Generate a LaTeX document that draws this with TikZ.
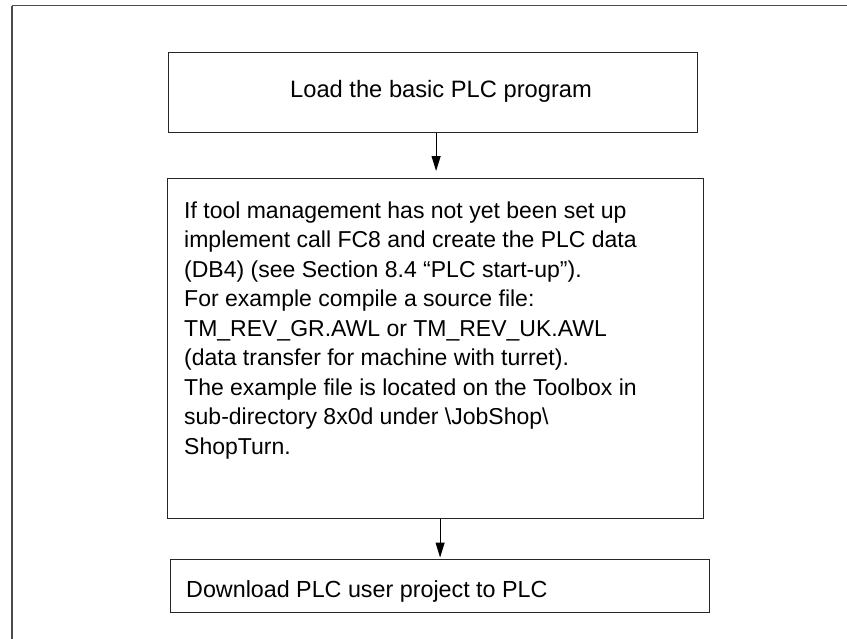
\documentclass[tikz,border=0pt]{standalone}
\usepackage{fontspec}
\setmainfont{Liberation Sans}
\usetikzlibrary{arrows.meta}

\begin{document}
\begin{tikzpicture}[x=1pt,y=-1pt,
  box/.style={draw=black!85, line width=1.2pt, rectangle, inner sep=0pt, anchor=north west},
  txt/.style={inner sep=0pt, anchor=base west},
  flow/.style={draw=black, line width=1.1pt, -{Triangle[length=15pt, width=9pt]}, shorten >=7pt}]
  \useasboundingbox (0,0) rectangle (847,638);

  % surrounding frame, running off the page at right and bottom
  \draw[black!70, line width=1.8pt] (12,5.5) -- (900,5.5);
  \draw[black!70, line width=1.8pt] (12,5.5) -- (12,700);

  % step boxes
  \node[box, minimum width=529pt, minimum height=80pt]  (b1) at (168,52)  {};
  \node[box, minimum width=536pt, minimum height=340pt] (b2) at (167,178) {};
  \node[box, minimum width=539pt, minimum height=53pt]  (b3) at (170,559) {};

  % step texts
  \node[txt, font=\fontsize{23.7}{29.5}\selectfont] (t1) at (290,97) {Load the basic PLC program};
  \node[txt, font=\fontsize{23}{29.5}\selectfont] (t2) at (184,218) {\parbox[t]{540pt}{\raggedright
    If tool management has not yet been set up\\
    implement call FC8 and create the PLC data\\
    (DB4) (see Section 8.4 “PLC start-up”).\\
    For example compile a source file:\\
    TM\_REV\_GR.AWL or TM\_REV\_UK.AWL\\
    (data transfer for machine with turret).\\
    The example file is located on the Toolbox in\\
    sub-directory 8x0d under \textbackslash JobShop\textbackslash\\
    ShopTurn.}};
  \node[txt, font=\fontsize{23.3}{29.5}\selectfont] (t3) at (186,597) {Download PLC user project to PLC};

  % connectors
  \coordinate (a1) at ([xshift=3pt]b1.south);
  \draw[flow] (a1) -- (a1 |- b2.north);
  \coordinate (a2) at ([xshift=4.5pt]b2.south);
  \draw[flow, shorten >=1.5pt] (a2) -- (a2 |- b3.north);
\end{tikzpicture}
\end{document}
